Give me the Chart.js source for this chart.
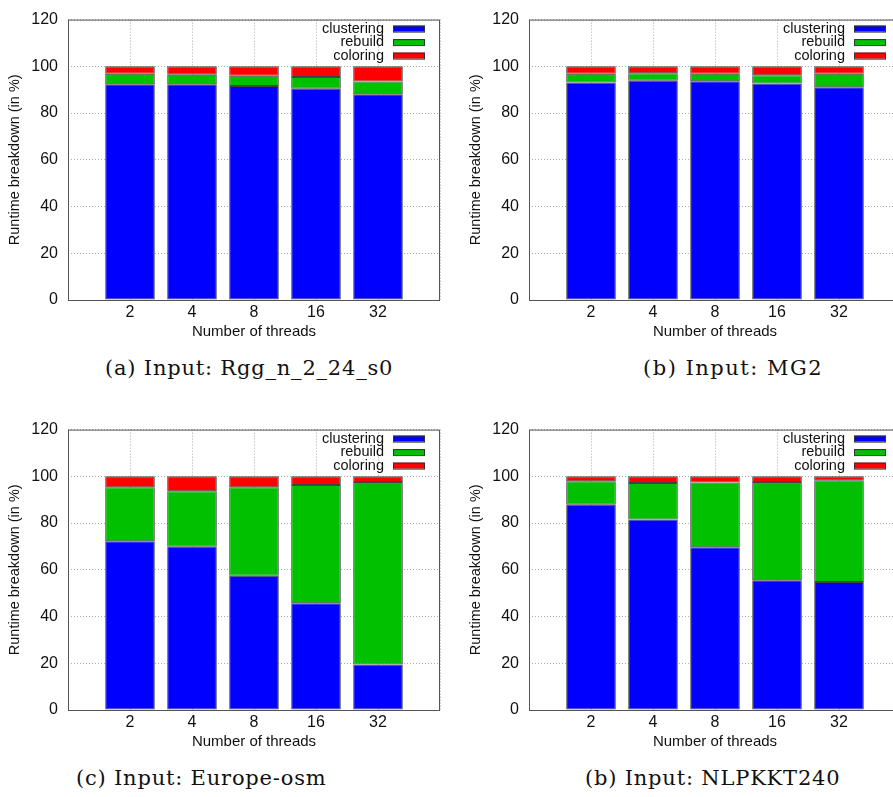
<!DOCTYPE html>
<html>
<head>
<meta charset="utf-8">
<script src="https://cdn.jsdelivr.net/npm/chart.js"></script>
<style>
  html, body { margin: 0; padding: 0; background: #fff; overflow: hidden; }
  body { width: 893px; height: 797px; position: relative; }
  .panel { position: absolute; width: 446px; height: 345px; }
  .caption { position: absolute; font-family: "DejaVu Serif", "Liberation Serif", serif; font-size: 21px; letter-spacing: 0.8px; color: #111; white-space: nowrap; }
</style>
</head>
<body>
<div class="panel" style="left:0;top:0"><canvas id="chartA" width="446" height="345"></canvas></div>
<div class="panel" style="left:461px;top:0"><canvas id="chartB" width="446" height="345"></canvas></div>
<div class="panel" style="left:0;top:410px"><canvas id="chartC" width="446" height="345"></canvas></div>
<div class="panel" style="left:461px;top:410px"><canvas id="chartD" width="446" height="345"></canvas></div>
<div class="caption" style="left:105px;top:356px">(a) Input: Rgg_n_2_24_s0</div>
<div class="caption" style="left:643px;top:356px;letter-spacing:1.5px">(b) Input: MG2</div>
<div class="caption" style="left:76px;top:766px">(c) Input: Europe-osm</div>
<div class="caption" style="left:585px;top:766px">(b) Input: NLPKKT240</div>
<script>
// thread counts on the x axis
var threads = ['2', '4', '8', '16', '32'];
var seriesNames = ['clustering', 'rebuild', 'coloring'];
var seriesColors = ['#0000ff', '#00c000', '#ff0000'];
var yTicks = [0, 20, 40, 60, 80, 100, 120];

// (a) Rgg_n_2_24_s0
var rggClustering = [92.3, 92.3, 91.6, 90.4, 88.1];
var rggRebuild    = [4.5, 4.1, 4.4, 5.0, 5.4];
var rggColoring   = [3.2, 3.6, 4.0, 4.6, 6.5];

// (b) MG2
var mg2Clustering = [93.1, 93.8, 93.6, 92.7, 91.0];
var mg2Rebuild    = [3.7, 3.2, 3.2, 3.5, 5.8];
var mg2Coloring   = [3.2, 3.0, 3.2, 3.8, 3.2];

// (c) Europe-osm
var eurClustering = [72.2, 69.9, 57.5, 45.7, 19.5];
var eurRebuild    = [23.1, 23.7, 37.8, 50.6, 78.1];
var eurColoring   = [4.7, 6.4, 4.7, 3.7, 2.4];

// (d) NLPKKT240
var nlpClustering = [87.8, 81.5, 69.6, 55.5, 54.8];
var nlpRebuild    = [10.1, 15.7, 27.8, 42.1, 43.5];
var nlpColoring   = [2.1, 2.8, 2.6, 2.4, 1.7];

var sansFont = '"Liberation Sans", Arial, sans-serif';

// empty slot on each side, like gnuplot's auto range
function pad(arr) {
  return [null].concat(arr, [null]);
}

// legend inside the plot, text on the left of the swatch
var boxLegend = {
  id: 'boxLegend',
  afterDraw: function(chart) {
    var ctx = chart.ctx;
    var area = chart.chartArea;
    ctx.save();
    // frame round the plot
    ctx.strokeStyle = '#555';
    ctx.lineWidth = 1;
    ctx.strokeRect(area.left + 0.5, area.top + 0.5, area.right - area.left - 1, area.bottom - area.top);
    ctx.font = '14.5px ' + sansFont;
    ctx.textAlign = 'right';
    ctx.textBaseline = 'middle';
    chart.data.datasets.forEach(function(ds, i) {
      var y = area.top + 9 + i * 13.5;
      ctx.fillStyle = '#111';
      ctx.fillText(ds.label, area.right - 56, y);
      ctx.fillStyle = ds.backgroundColor;
      ctx.fillRect(area.right - 47, y - 3, 32, 6);
      ctx.strokeStyle = '#333';
      ctx.strokeRect(area.right - 47 + 0.5, y - 3 + 0.5, 31, 6);
    });
    ctx.restore();
  }
};

function makeChart(id, clustering, rebuild, coloring) {
  var values = [clustering, rebuild, coloring];
  var datasets = [];
  for (var i = 0; i < seriesNames.length; i++) {
    datasets.push({
      label: seriesNames[i],
      data: pad(values[i]),
      backgroundColor: seriesColors[i],
      borderColor: '#444',
      borderWidth: 1,
      borderSkipped: false,
      barPercentage: 0.8,
      categoryPercentage: 1.0
    });
  }
  return new Chart(document.getElementById(id), {
    type: 'bar',
    data: { labels: [''].concat(threads, ['']), datasets: datasets },
    plugins: [boxLegend],
    options: {
      responsive: false,
      animation: false,
      layout: { padding: { top: 17, right: 6, left: 0, bottom: 0 } },
      plugins: { legend: { display: false }, tooltip: { enabled: false } },
      scales: {
        x: {
          stacked: true,
          offset: false,
          grid: { color: '#aaaaaa', offset: false, drawTicks: false },
          border: { display: false, dash: [1, 2] },
          ticks: { color: '#111', font: { family: sansFont, size: 16 }, padding: 3, maxRotation: 0, autoSkip: false },
          title: { display: true, text: 'Number of threads', color: '#111', font: { family: sansFont, size: 15 }, padding: { top: 0 } },
          afterFit: function(scale) { scale.height = 45; }
        },
        y: {
          stacked: true,
          min: 0,
          max: 120,
          afterBuildTicks: function(scale) { scale.ticks = yTicks.map(function(v) { return { value: v }; }); },
          grid: { color: '#aaaaaa', drawTicks: false },
          border: { display: false, dash: [1, 2] },
          ticks: { color: '#111', font: { family: sansFont, size: 16 }, padding: 10 },
          title: { display: true, text: 'Runtime breakdown (in %)', color: '#111', font: { family: sansFont, size: 14.5 }, padding: { top: 6, bottom: 0 } },
          afterFit: function(scale) { scale.width = 68; }
        }
      }
    }
  });
}

makeChart('chartA', rggClustering, rggRebuild, rggColoring);
makeChart('chartB', mg2Clustering, mg2Rebuild, mg2Coloring);
makeChart('chartC', eurClustering, eurRebuild, eurColoring);
makeChart('chartD', nlpClustering, nlpRebuild, nlpColoring);
</script>
</body>
</html>
